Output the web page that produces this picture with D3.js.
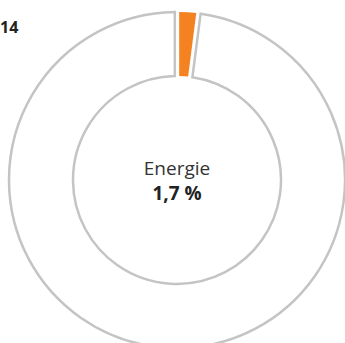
<!DOCTYPE html>
<html><head><meta charset="utf-8">
<script src="https://cdn.jsdelivr.net/npm/d3@7"></script>
<style>html,body{margin:0;padding:0;background:#fff;overflow:hidden}</style>
</head><body>
<svg id="c" width="345" height="343"></svg>
<script>
const categories = ["Energie", "Übrige"];
const values = [1.7, 98.3];
const yearLabel = "14";
const centerLabel = "Energie";
const centerValue = "1,7 %";

const svg = d3.select("#c");
const cx = 177, cy = 180, outerR = 168, innerR = 104;
const g = svg.append("g").attr("transform", `translate(${cx},${cy})`);
const pie = d3.pie().sort(null).value(d => d.v).padAngle(0.022);
const arc = d3.arc().innerRadius(innerR).outerRadius(outerR);
const data = pie(categories.map((c, i) => ({c, v: values[i]})));
g.selectAll("path").data(data).join("path")
  .attr("d", arc)
  .attr("fill", (d, i) => i === 0 ? "#f58220" : "#fff")
  .attr("stroke", (d, i) => i === 0 ? "none" : "#c4c4c4")
  .attr("stroke-width", 2.5);

svg.append("text").attr("x", 0).attr("y", 33).attr("text-anchor", "start")
  .attr("font-family", "Open Sans, sans-serif").attr("font-weight", "bold")
  .attr("font-size", 16).attr("fill", "#222").text(yearLabel);

g.append("text").attr("y", -5).attr("text-anchor", "middle")
  .attr("font-family", "Open Sans, sans-serif").attr("font-size", 19)
  .attr("fill", "#333").text(centerLabel);
g.append("text").attr("y", 20).attr("text-anchor", "middle")
  .attr("font-family", "Open Sans, sans-serif").attr("font-size", 19).attr("font-weight", "bold")
  .attr("fill", "#222").text(centerValue);
</script>
</body></html>
